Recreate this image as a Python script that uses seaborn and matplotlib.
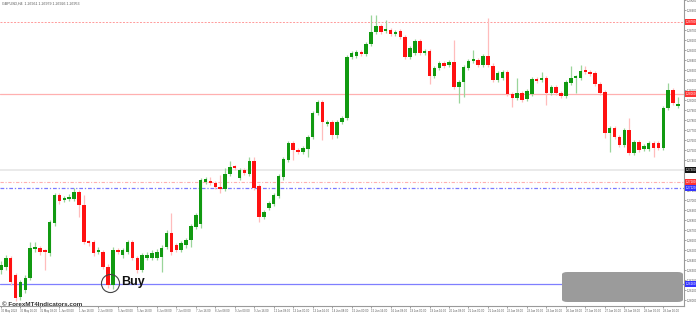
import matplotlib
matplotlib.use("Agg")
import matplotlib.pyplot as plt
import matplotlib.transforms as mtransforms
from matplotlib.patches import FancyBboxPatch
import numpy as np
import seaborn as sns

# ---------------- data (GBPUSD H4 candles) ----------------
opens = [1.2630, 1.2633, 1.2642, 1.2625, 1.2603, 1.2610, 1.2622, 1.2651, 1.2652, 1.2649,
         1.2647, 1.2677, 1.2705, 1.2700, 1.2701, 1.2701, 1.2708, 1.2695, 1.2658, 1.2658,
         1.2648, 1.2648, 1.2633, 1.2615, 1.2650, 1.2645, 1.2648, 1.2658, 1.2642, 1.2630,
         1.2642, 1.2642, 1.2642, 1.2643, 1.2653, 1.2667, 1.2655, 1.2650, 1.2655, 1.2660,
         1.2673, 1.2676, 1.2718, 1.2719, 1.2717, 1.2713, 1.2711, 1.2726, 1.2733, 1.2722,
         1.2730, 1.2726, 1.2739, 1.2714, 1.2683, 1.2692, 1.2696, 1.2704, 1.2723, 1.2740,
         1.2757, 1.2750, 1.2748, 1.2751, 1.2763, 1.2787, 1.2798, 1.2776, 1.2778, 1.2765,
         1.2778, 1.2782, 1.2843, 1.2844, 1.2848, 1.2846, 1.2856, 1.2868, 1.2874, 1.2869,
         1.2870, 1.2866, 1.2869, 1.2863, 1.2843, 1.2847, 1.2859, 1.2847, 1.2849, 1.2824,
         1.2832, 1.2837, 1.2835, 1.2838, 1.2813, 1.2818, 1.2832, 1.2839, 1.2840, 1.2835,
         1.2844, 1.2834, 1.2820, 1.2822, 1.2828, 1.2806, 1.2802, 1.2807, 1.2801, 1.2806,
         1.2821, 1.2820, 1.2822, 1.2807, 1.2813, 1.2807, 1.2804, 1.2817, 1.2822, 1.2822,
         1.2829, 1.2828, 1.2827, 1.2816, 1.2808, 1.2767, 1.2772, 1.2763, 1.2755, 1.2770,
         1.2747, 1.2758, 1.2751, 1.2751, 1.2757, 1.2757, 1.2752, 1.2792, 1.2810, 1.2794]
highs = [1.2639, 1.2645, 1.2644, 1.2627, 1.2620, 1.2625, 1.2658, 1.2658, 1.2654, 1.2651,
         1.2680, 1.2707, 1.2707, 1.2704, 1.2706, 1.2712, 1.2710, 1.2705, 1.2660, 1.2660,
         1.2653, 1.2650, 1.2636, 1.2653, 1.2652, 1.2652, 1.2660, 1.2660, 1.2644, 1.2647,
         1.2648, 1.2650, 1.2651, 1.2655, 1.2670, 1.2687, 1.2657, 1.2659, 1.2662, 1.2676,
         1.2687, 1.2722, 1.2723, 1.2723, 1.2719, 1.2725, 1.2732, 1.2739, 1.2735, 1.2732,
         1.2732, 1.2743, 1.2743, 1.2716, 1.2690, 1.2699, 1.2707, 1.2726, 1.2743, 1.2759,
         1.2759, 1.2752, 1.2754, 1.2765, 1.2789, 1.2800, 1.2800, 1.2780, 1.2780, 1.2780,
         1.2784, 1.2845, 1.2849, 1.2850, 1.2850, 1.2858, 1.2885, 1.2885, 1.2876, 1.2880,
         1.2872, 1.2870, 1.2871, 1.2865, 1.2854, 1.2861, 1.2861, 1.2851, 1.2851, 1.2834,
         1.2839, 1.2839, 1.2840, 1.2860, 1.2820, 1.2835, 1.2841, 1.2850, 1.2842, 1.2846,
         1.2882, 1.2837, 1.2829, 1.2830, 1.2830, 1.2808, 1.2822, 1.2809, 1.2811, 1.2823,
         1.2823, 1.2828, 1.2824, 1.2815, 1.2815, 1.2809, 1.2820, 1.2834, 1.2825, 1.2835,
         1.2834, 1.2830, 1.2829, 1.2818, 1.2810, 1.2774, 1.2774, 1.2765, 1.2772, 1.2782,
         1.2760, 1.2760, 1.2756, 1.2759, 1.2759, 1.2759, 1.2794, 1.2817, 1.2812, 1.2803]
lows = [1.2626, 1.2630, 1.2615, 1.2599, 1.2600, 1.2607, 1.2620, 1.2648, 1.2645, 1.2630,
        1.2644, 1.2674, 1.2696, 1.2698, 1.2699, 1.2699, 1.2683, 1.2656, 1.2654, 1.2644,
        1.2646, 1.2631, 1.2612, 1.2611, 1.2646, 1.2642, 1.2646, 1.2640, 1.2627, 1.2628,
        1.2640, 1.2640, 1.2640, 1.2628, 1.2651, 1.2645, 1.2648, 1.2648, 1.2652, 1.2653,
        1.2671, 1.2672, 1.2716, 1.2715, 1.2711, 1.2707, 1.2709, 1.2724, 1.2730, 1.2720,
        1.2725, 1.2724, 1.2710, 1.2678, 1.2681, 1.2690, 1.2694, 1.2702, 1.2720, 1.2738,
        1.2740, 1.2746, 1.2746, 1.2743, 1.2761, 1.2785, 1.2760, 1.2774, 1.2761, 1.2762,
        1.2776, 1.2780, 1.2841, 1.2842, 1.2844, 1.2844, 1.2854, 1.2866, 1.2866, 1.2867,
        1.2864, 1.2864, 1.2861, 1.2841, 1.2841, 1.2845, 1.2845, 1.2845, 1.2816, 1.2822,
        1.2830, 1.2832, 1.2833, 1.2811, 1.2797, 1.2803, 1.2830, 1.2837, 1.2833, 1.2833,
        1.2833, 1.2818, 1.2818, 1.2820, 1.2804, 1.2793, 1.2800, 1.2798, 1.2799, 1.2804,
        1.2817, 1.2818, 1.2795, 1.2805, 1.2805, 1.2802, 1.2802, 1.2815, 1.2807, 1.2820,
        1.2826, 1.2824, 1.2814, 1.2805, 1.2762, 1.2748, 1.2761, 1.2753, 1.2753, 1.2745,
        1.2745, 1.2748, 1.2749, 1.2749, 1.2743, 1.2750, 1.2750, 1.2790, 1.2795, 1.2792]
closes = [1.2635, 1.2642, 1.2618, 1.2602, 1.2618, 1.2622, 1.2652, 1.2653, 1.2648, 1.2648,
          1.2678, 1.2705, 1.2699, 1.2702, 1.2703, 1.2708, 1.2695, 1.2658, 1.2657, 1.2647,
          1.2649, 1.2633, 1.2615, 1.2650, 1.2648, 1.2650, 1.2658, 1.2642, 1.2630, 1.2645,
          1.2645, 1.2647, 1.2648, 1.2652, 1.2667, 1.2648, 1.2650, 1.2657, 1.2660, 1.2674,
          1.2685, 1.2720, 1.2721, 1.2717, 1.2713, 1.2711, 1.2726, 1.2733, 1.2732, 1.2730,
          1.2727, 1.2739, 1.2712, 1.2683, 1.2688, 1.2697, 1.2705, 1.2724, 1.2741, 1.2757,
          1.2750, 1.2748, 1.2752, 1.2763, 1.2787, 1.2798, 1.2778, 1.2778, 1.2765, 1.2778,
          1.2782, 1.2843, 1.2847, 1.2848, 1.2846, 1.2856, 1.2868, 1.2874, 1.2868, 1.2871,
          1.2866, 1.2868, 1.2863, 1.2843, 1.2852, 1.2859, 1.2847, 1.2849, 1.2824, 1.2832,
          1.2837, 1.2834, 1.2838, 1.2813, 1.2818, 1.2833, 1.2839, 1.2841, 1.2835, 1.2844,
          1.2835, 1.2820, 1.2827, 1.2828, 1.2806, 1.2802, 1.2807, 1.2800, 1.2809, 1.2821,
          1.2819, 1.2822, 1.2807, 1.2813, 1.2807, 1.2804, 1.2818, 1.2822, 1.2823, 1.2829,
          1.2828, 1.2826, 1.2816, 1.2807, 1.2767, 1.2772, 1.2763, 1.2755, 1.2770, 1.2747,
          1.2758, 1.2750, 1.2754, 1.2757, 1.2752, 1.2752, 1.2792, 1.2810, 1.2797, 1.2796]

# horizontal levels
level_red_dotted_top = 1.2878
level_red_solid = 1.2806
level_gray = 1.2730
level_red_dotted_mid = 1.2718
level_blue_dotted = 1.2712
level_buy = 1.2616
buy_index = 23

x_labels = ["30 May 2023", "30 May 16:00", "31 May 08:00", "1 Jun 00:00", "1 Jun 16:00",
            "2 Jun 08:00", "5 Jun 00:00", "5 Jun 16:00", "6 Jun 08:00", "7 Jun 00:00",
            "7 Jun 16:00", "8 Jun 08:00", "9 Jun 00:00", "9 Jun 16:00", "12 Jun 08:00",
            "13 Jun 00:00", "13 Jun 16:00", "14 Jun 08:00", "15 Jun 00:00", "15 Jun 16:00",
            "16 Jun 08:00", "19 Jun 00:00", "19 Jun 16:00", "20 Jun 08:00", "21 Jun 00:00",
            "21 Jun 16:00", "22 Jun 08:00", "23 Jun 00:00", "23 Jun 16:00", "26 Jun 08:00",
            "27 Jun 00:00", "27 Jun 16:00", "28 Jun 08:00", "29 Jun 00:00", "29 Jun 16:00"]
title_text = "GBPUSD,H4  1.26961 1.26979 1.26926 1.26953"

# ---------------- drawing ----------------
sns.set_theme(style="white")
plt.rcParams['font.family'] = ['Liberation Sans', 'DejaVu Sans']

W, H = 696, 313
fig = plt.figure(figsize=(W / 100, H / 100), dpi=100)
fig.patch.set_facecolor("white")
ax = fig.add_axes([0, 7 / H, 684 / W, 306 / H])
ax.set_facecolor("white")

o = np.array(opens); c = np.array(closes); hi = np.array(highs); lo = np.array(lows)
xs = np.arange(len(o))
up = c >= o
body_col = np.where(up, "#119a11", "#ff1111")
wick_col = np.where(up, "#9ad59a", "#ffbcbc")

ax.vlines(xs, lo, hi, colors=wick_col, linewidth=0.9, zorder=2)
body_h = np.maximum(np.abs(c - o), 0.00018)
ax.bar(xs, body_h, bottom=np.minimum(o, c), width=0.72, color=body_col,
       linewidth=0, zorder=3)

# level lines
ax.axhline(level_red_dotted_top, color="#ff9a9a", lw=0.7, ls=(0, (2, 1.5)), zorder=1)
ax.axhline(level_red_solid, color="#ffb0b0", lw=0.9, zorder=1)
ax.axhline(level_gray, color="#e6e6e6", lw=1.2, zorder=1)
ax.axhline(level_red_dotted_mid, color="#ffb0b0", lw=0.8, ls=(0, (3, 1.5, 1, 1.5)), zorder=1)
ax.axhline(level_blue_dotted, color="#7a7aff", lw=0.9, ls=(0, (3, 1.5, 1, 1.5)), zorder=1)
ax.axhline(level_buy, color="#7f7fff", lw=0.9, zorder=1)

ax.set_xlim(-0.2, 140.25)
ax.set_ylim(1.2594, 1.2900)

# axes frame like MT4
sns.despine(ax=ax, left=True, top=True, right=False, bottom=False)
for s in ("right", "bottom"):
    ax.spines[s].set_color("#9a9a9a")
    ax.spines[s].set_linewidth(0.8)

ax.yaxis.tick_right()
yt = np.round(np.arange(1.2600, 1.2900, 0.0010), 4)
ax.set_yticks(yt)
ax.set_yticklabels([f"{v:.5f}" for v in yt], fontsize=2.1, color="#555555")
ax.tick_params(axis="y", which="both", right=True, length=1.2, width=0.5,
               pad=0.8, colors="#777777", labelcolor="#555555")
ax.set_xticks(np.arange(0, 140, 4))
ax.set_xticklabels(x_labels, fontsize=2.0, color="#555555", ha="left")
ax.tick_params(axis="x", bottom=True, length=1.5, width=0.5, pad=0.8,
               colors="#777777", labelcolor="#555555")
ax.grid(False)

# price label boxes on right axis
trans = mtransforms.blended_transform_factory(ax.transAxes, ax.transData)
for val, fc in [(level_red_dotted_top, "#ff3333"), (level_red_solid, "#ff3333"),
                (level_gray, "#111111"), (level_red_dotted_mid, "#ff3333"),
                (level_blue_dotted, "#3333ff"), (level_buy, "#3333ff")]:
    ax.text(1.003, val, f"{val:.5f}", transform=trans, fontsize=2.1, color="white",
            va="center", ha="left", clip_on=False, zorder=6,
            bbox=dict(facecolor=fc, edgecolor="none", pad=0.8))

# title text
fig.text(2 / W, 1 - 4 / H, title_text, fontsize=2.6, color="#555555", va="center", ha="left")

# Buy annotation
ax.plot([buy_index - 0.6], [level_buy + 0.0001], marker="o", markersize=13,
        markerfacecolor="none", markeredgecolor="#444444", markeredgewidth=0.8,
        zorder=5, clip_on=False)
fig.text(121 / W, 1 - 282 / H, "Buy", fontsize=9, fontweight="bold", color="#111111",
         va="center", ha="left")

# watermark
fig.text(2 / W, 1 - 304 / H, "© ForexMT4Indicators.com", fontsize=4.5, fontweight="bold",
         color="#333333", va="center", ha="left")

# gray overlay box bottom right
box = FancyBboxPatch((562 / W, 11 / H), 121 / W, 30 / H,
                     boxstyle="round,pad=0,rounding_size=0.008",
                     transform=fig.transFigure, facecolor="#9b9b9b", edgecolor="none",
                     zorder=10)
fig.patches.append(box)

fig.savefig("out.png", dpi=100, facecolor="white")
